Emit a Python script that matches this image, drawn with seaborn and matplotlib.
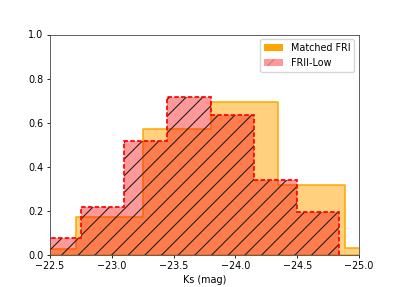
import matplotlib
matplotlib.use("Agg")
import matplotlib.pyplot as plt
from matplotlib.patches import Patch
import numpy as np
import seaborn as sns

# Data (bin edges in Ks mag, ascending numeric order; heights = normalized density)
fri_edges = [-25.435, -24.89, -24.345, -23.80, -23.255, -22.71, -22.165]
fri_heights = [0.030, 0.319, 0.695, 0.571, 0.171, 0.027]

frii_edges = [-24.84, -24.495, -24.15, -23.80, -23.45, -23.10, -22.75, -22.40]
frii_heights = [0.196, 0.340, 0.636, 0.715, 0.515, 0.218, 0.079]

x_ticks = [-22.5, -23.0, -23.5, -24.0, -24.5, -25.0]
y_ticks = [0.0, 0.2, 0.4, 0.6, 0.8, 1.0]
labels = ["Matched FRI", "FRII-Low"]

FS = 6.9
plt.rcParams.update({
    "font.family": ["DejaVu Sans"],
    "font.size": FS,
    "hatch.linewidth": 0.8,
    "axes.linewidth": 0.6,
    "xtick.major.size": 2.3,
    "ytick.major.size": 2.3,
    "xtick.major.width": 0.6,
    "ytick.major.width": 0.6,
    "xtick.major.pad": 2.3,
    "ytick.major.pad": 2.3,
})

fig = plt.figure(figsize=(3.99, 2.87), dpi=100)
ax = fig.add_axes([50 / 399, 1 - 255 / 287, 309 / 399, 220.5 / 287])

def centers(edges):
    e = np.asarray(edges)
    return (e[:-1] + e[1:]) / 2

# Matched FRI: filled step histogram
sns.histplot(x=centers(fri_edges), weights=fri_heights, bins=fri_edges,
             element="step", fill=True, color="orange", alpha=0.5,
             edgecolor="orange", linewidth=1.1, ax=ax)

# FRII-Low: hatched translucent fill
sns.histplot(x=centers(frii_edges), weights=frii_heights, bins=frii_edges,
             element="bars", fill=True, color="red", alpha=0.4,
             edgecolor="#222222", linewidth=0, hatch="//", ax=ax)

# FRII-Low outline, red dashed
ax.stairs(frii_heights, frii_edges, baseline=0, fill=False, color="red",
          linewidth=1.25, linestyle=(0, (2.6, 1.3)))

ax.set_xlim(-22.5, -25.0)
ax.set_ylim(0, 1.0)
ax.set_xticks(x_ticks)
ax.set_yticks(y_ticks)
ax.set_xticklabels([f"\u2212{abs(t):.1f}" for t in x_ticks])
ax.set_yticklabels([f"{t:.1f}" for t in y_ticks])
for s in ax.spines.values():
    s.set_color("#444444")
ax.tick_params(colors="black")
ax.set_xlabel("Ks (mag)", fontsize=FS, labelpad=2.5)
ax.set_ylabel("")

handles = [
    Patch(facecolor="orange", edgecolor="none", linewidth=0),
    Patch(facecolor=(1, 0, 0, 0.4), edgecolor=(0, 0, 0, 0.2), linewidth=0, hatch="//"),
]
ax.legend(handles, labels, loc="upper right", fontsize=FS)

fig.savefig("out.png", dpi=100)
